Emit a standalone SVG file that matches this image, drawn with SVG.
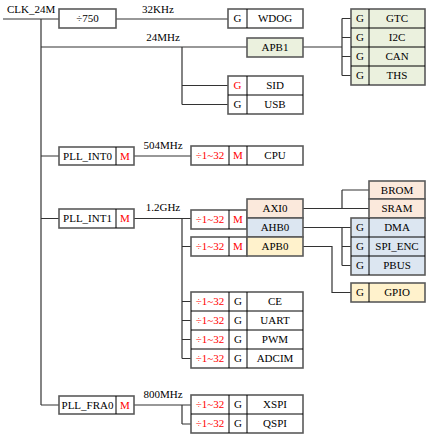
<svg xmlns="http://www.w3.org/2000/svg" width="427" height="435" viewBox="0 0 427 435">
<style>
text{font-family:"Liberation Serif","Times New Roman",serif;font-size:11px;fill:#000;text-anchor:middle;}
.r{fill:#ff0000;}
.lbl{text-anchor:start;}
.box{fill:#fff;stroke:#5a5a5a;stroke-width:1.6;}
.g{fill:#ebf1de;}
.p{fill:#fbe9dc;}
.b{fill:#dce6f1;}
.y{fill:#fff2cc;}
.d{stroke:#000;stroke-width:1;fill:none;}
.c{stroke:#333;stroke-width:1.2;fill:none;}
</style>
<rect width="427" height="435" fill="#fff"/>
<g id="connectors" class="c">
<path d="M3,19H59M116,19H228"/>
<path d="M41,19V405"/>
<path d="M41,47H247M182,47V104.5M182,85.5H228M182,104.5H228"/>
<path d="M303,47H342M342,18.5V75.5M342,18.5H351M342,37.5H351M342,56.5H351M342,75.5H351"/>
<path d="M41,156H59M134,156H191"/>
<path d="M41,218.5H59M134,218.5H191M182,218.5V358.5M182,246.5H191M182,301.5H191M182,320.5H191M182,339.5H191M182,358.5H191"/>
<path d="M303,208.5H369M342,190V208.5M342,190H369"/>
<path d="M303,227.5H351M342,227.5V265.5M342,246.5H351M342,265.5H351"/>
<path d="M303,246.5H332V292.5H351"/>
<path d="M41,405H59M134,405H191M182,405V424M182,424H191"/>
</g>
<g id="labels">
<text class="lbl" x="7" y="13">CLK_24M</text>
<text x="158" y="13">32KHz</text>
<text x="163" y="41">24MHz</text>
<text x="163" y="149">504MHz</text>
<text x="163" y="211">1.2GHz</text>
<text x="163" y="398">800MHz</text>
</g>
<g id="div750"><rect class="box" x="59" y="9" width="57" height="19"/><text x="87.5" y="22">÷750</text></g>
<g id="wdog"><rect class="box" x="228" y="9" width="75" height="19"/><path class="d" d="M247,9V28"/><text x="237.5" y="22">G</text><text x="275" y="22">WDOG</text></g>
<g id="apb1"><rect class="box g" x="247" y="38" width="56" height="19"/><text x="275" y="51">APB1</text></g>
<g id="apb1-periph"><rect class="box g" x="351" y="9" width="74" height="76"/><path class="d" d="M369,9V85M351,28H425M351,47H425M351,66H425"/>
<text x="360" y="22">G</text><text x="397" y="22">GTC</text>
<text x="360" y="41">G</text><text x="397" y="41">I2C</text>
<text x="360" y="60">G</text><text x="397" y="60">CAN</text>
<text x="360" y="79">G</text><text x="397" y="79">THS</text></g>
<g id="sid-usb"><rect class="box" x="228" y="76" width="75" height="38"/><path class="d" d="M247,76V114M228,95H303"/>
<text class="r" x="237.5" y="89">G</text><text x="275" y="89">SID</text>
<text x="237.5" y="108">G</text><text x="275" y="108">USB</text></g>
<g id="pll-int0"><rect class="box" x="59" y="147" width="75" height="18"/><path class="d" d="M116,147V165"/><text x="87.5" y="160">PLL_INT0</text><text class="r" x="125" y="160">M</text></g>
<g id="cpu"><rect class="box" x="191" y="146" width="112" height="19"/><path class="d" d="M229,146V165M247,146V165"/><text class="r" x="210" y="159">÷1~32</text><text class="r" x="238" y="159">M</text><text x="275" y="159">CPU</text></g>
<g id="pll-int1"><rect class="box" x="59" y="209" width="75" height="19"/><path class="d" d="M116,209V228"/><text x="87.5" y="222">PLL_INT1</text><text class="r" x="125" y="222">M</text></g>
<g id="mux-axi"><rect class="box" x="191" y="210" width="56" height="19"/><path class="d" d="M229,210V229"/><text class="r" x="210" y="223">÷1~32</text><text class="r" x="238" y="223">M</text></g>
<g id="mux-apb0"><rect class="box" x="191" y="237" width="56" height="19"/><path class="d" d="M229,237V256"/><text class="r" x="210" y="250">÷1~32</text><text class="r" x="238" y="250">M</text></g>
<g id="axi0"><rect class="box p" x="247" y="199" width="56" height="19"/><text x="275" y="212">AXI0</text></g>
<g id="ahb0"><rect class="box b" x="247" y="218" width="56" height="19"/><text x="275" y="231">AHB0</text></g>
<g id="apb0"><rect class="box y" x="247" y="237" width="56" height="19"/><text x="275" y="250">APB0</text></g>
<g id="brom"><rect class="box p" x="369" y="181" width="56" height="18"/><text x="397" y="194">BROM</text></g>
<g id="sram"><rect class="box p" x="369" y="199" width="56" height="19"/><text x="397" y="212">SRAM</text></g>
<g id="ahb0-periph"><rect class="box b" x="351" y="218" width="74" height="57"/><path class="d" d="M369,218V275M351,237H425M351,256H425"/>
<text x="360" y="231">G</text><text x="397" y="231">DMA</text>
<text x="360" y="250">G</text><text x="397" y="250">SPI_ENC</text>
<text x="360" y="269">G</text><text x="397" y="269">PBUS</text></g>
<g id="gpio"><rect class="box y" x="351" y="283" width="74" height="19"/><path class="d" d="M369,283V302"/><text x="360" y="296">G</text><text x="397" y="296">GPIO</text></g>
<g id="int1-periph"><rect class="box" x="191" y="292" width="112" height="76"/><path class="d" d="M229,292V368M247,292V368M191,311H303M191,330H303M191,349H303"/>
<text class="r" x="210" y="305">÷1~32</text><text x="238" y="305">G</text><text x="275" y="305">CE</text>
<text class="r" x="210" y="324">÷1~32</text><text x="238" y="324">G</text><text x="275" y="324">UART</text>
<text class="r" x="210" y="343">÷1~32</text><text x="238" y="343">G</text><text x="275" y="343">PWM</text>
<text class="r" x="210" y="362">÷1~32</text><text x="238" y="362">G</text><text x="275" y="362">ADCIM</text></g>
<g id="pll-fra0"><rect class="box" x="59" y="396" width="75" height="18"/><path class="d" d="M116,396V414"/><text x="87.5" y="409">PLL_FRA0</text><text class="r" x="125" y="409">M</text></g>
<g id="fra0-periph"><rect class="box" x="191" y="395" width="112" height="38"/><path class="d" d="M229,395V433M247,395V433M191,414H303"/>
<text class="r" x="210" y="408">÷1~32</text><text x="238" y="408">G</text><text x="275" y="408">XSPI</text>
<text class="r" x="210" y="427">÷1~32</text><text x="238" y="427">G</text><text x="275" y="427">QSPI</text></g>
</svg>
